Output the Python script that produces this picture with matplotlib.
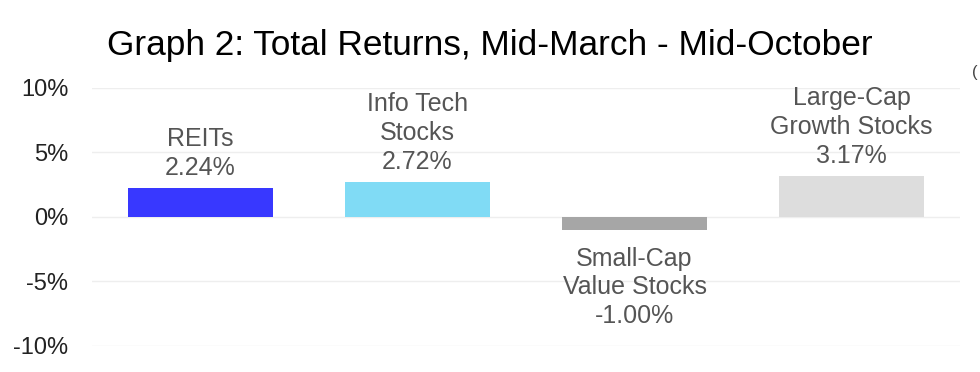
import matplotlib
matplotlib.use("Agg")
import matplotlib.pyplot as plt

categories = ["REITs", "Info Tech\nStocks", "Small-Cap\nValue Stocks", "Large-Cap\nGrowth Stocks"]
values = [2.24, 2.72, -1.00, 3.17]
colors = ["#3838FF", "#80DBF5", "#A6A6A6", "#DDDDDD"]
yticks = [-10, -5, 0, 5, 10]
title = "Graph 2: Total Returns, Mid-March - Mid-October"

plt.rcParams['font.family'] = ['Liberation Sans', 'DejaVu Sans']

fig = plt.figure(figsize=(9.8, 3.72), dpi=100)
ax = fig.add_axes([92/980, 1-346/372, (960-92)/980, (346-88)/372])

x = list(range(len(values)))
ax.bar(x, values, width=0.664, color=colors, zorder=2)
ax.set_xlim(-0.5, 3.5)
ax.set_ylim(-10, 10)
ax.set_yticks(yticks)
ax.set_yticklabels([f"{t}%" for t in yticks], fontsize=17, color="#222222")
ax.set_xticks([])
ax.tick_params(axis='y', length=0, pad=17)
for s in ax.spines.values():
    s.set_visible(False)
ax.grid(axis='y', color="#EEEEEE", linewidth=1, zorder=0)

for xi, v, c in zip(x, values, categories):
    label = f"{c}\n{v:.2f}%"
    if v >= 0:
        ax.annotate(label, (xi, v), xytext=(0, 6), textcoords='offset points',
                    ha='center', va='bottom', fontsize=18, color="#555555", linespacing=1.25)
    else:
        ax.annotate(label, (xi, v), xytext=(0, -12), textcoords='offset points',
                    ha='center', va='top', fontsize=18, color="#555555", linespacing=1.25)

fig.text(490/980, 1-45/372, title, ha='center', va='center', fontsize=25.4, color="#000000")
fig.text(972/980, 1-72/372, "(", ha='left', va='center', fontsize=12, color="#444444")

fig.savefig("out.png", dpi=100)
